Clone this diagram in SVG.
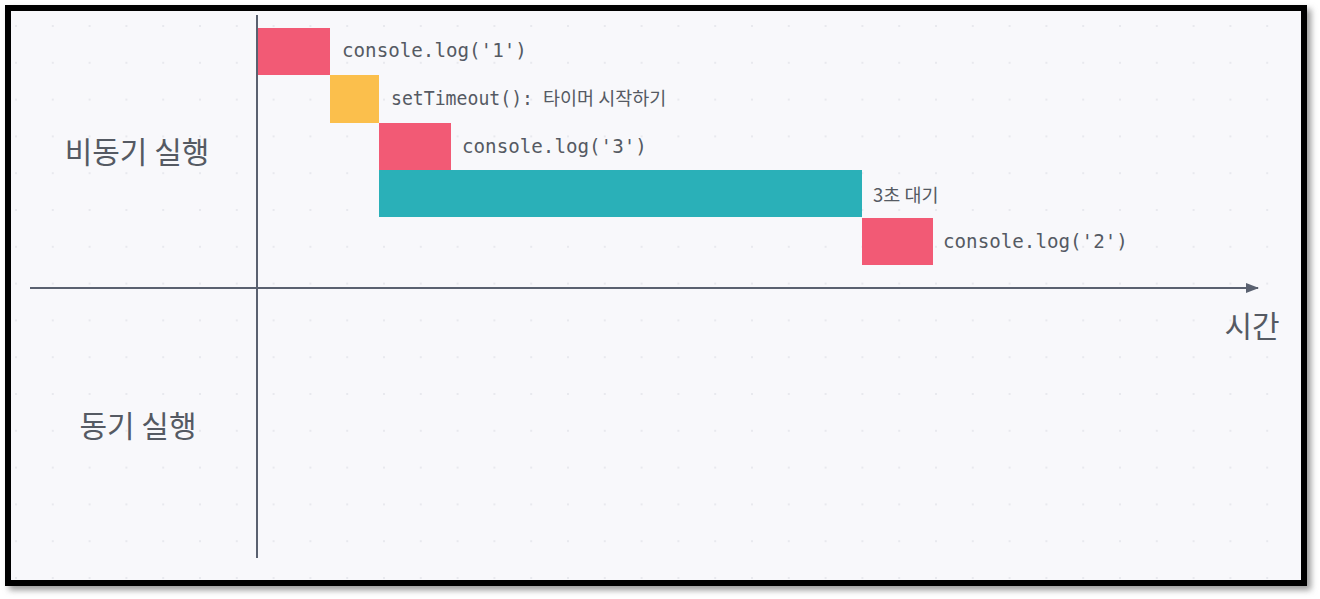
<svg xmlns="http://www.w3.org/2000/svg" width="1320" height="599" viewBox="0 0 1320 599">
<defs>
<pattern id="dots" x="15" y="25" width="36.8" height="36.8" patternUnits="userSpaceOnUse">
<circle cx="1" cy="1" r="1" fill="#e3e4ea"/>
</pattern>
<marker id="arrow" markerWidth="14" markerHeight="12" refX="12" refY="6" orient="auto" markerUnits="userSpaceOnUse">
<path d="M0,1 L13,6 L0,11 Z" fill="#5a6170"/>
</marker>
<filter id="shadow" x="-5%" y="-5%" width="110%" height="110%">
<feGaussianBlur stdDeviation="3"/>
</filter>
</defs>
<style>
.axis{stroke:#5a6170;stroke-width:2;fill:none}
.red{fill:#f25a75}
.yellow{fill:#fbbf4c}
.teal{fill:#2ab0b8}
.code{font-family:"DejaVu Sans Mono","Liberation Mono",monospace;font-size:19.2px;fill:#555a63}
.ko{font-family:"Noto Sans CJK KR","Noto Sans",sans-serif;fill:#555a63}
.small{font-size:18.5px}
.big{font-size:30px}
</style>
<rect x="0" y="0" width="1320" height="599" fill="#ffffff"/>
<rect x="9" y="9" width="1302" height="581" fill="#9a9a9a" filter="url(#shadow)"/>
<rect x="5" y="5" width="1302" height="581" fill="#000"/>
<rect x="11" y="11" width="1290" height="569" fill="#f8f8fb"/>
<rect x="11" y="11" width="1290" height="569" fill="url(#dots)"/>

<g id="connectors">
<line class="axis" x1="257" y1="15" x2="257" y2="558"/>
<line class="axis" x1="30" y1="288" x2="1258" y2="288" marker-end="url(#arrow)"/>
</g>

<g id="label-async"><text class="ko big" x="137" y="163" text-anchor="middle">비동기 실행</text></g>
<g id="label-sync"><text class="ko big" x="138" y="437" text-anchor="middle">동기 실행</text></g>
<g id="label-time"><text class="ko big" x="1252" y="337" text-anchor="middle">시간</text></g>

<g id="log1">
<rect class="red" x="258" y="28" width="72" height="47"/>
<text class="code" x="342" y="57">console.log('1')</text>
</g>
<g id="settimeout">
<rect class="yellow" x="330" y="75" width="49" height="48"/>
<text class="code" x="391" y="105" textLength="142" lengthAdjust="spacingAndGlyphs">setTimeout():</text>
<text class="ko small" x="543" y="105">타이머 시작하기</text>
</g>
<g id="log3">
<rect class="red" x="379" y="123" width="72" height="47"/>
<text class="code" x="462" y="153">console.log('3')</text>
</g>
<g id="wait">
<rect class="teal" x="379" y="170" width="483" height="47"/>
<text class="ko small" x="873" y="202">3초 대기</text>
</g>
<g id="log2">
<rect class="red" x="862" y="218" width="71" height="47"/>
<text class="code" x="943" y="248">console.log('2')</text>
</g>
</svg>
